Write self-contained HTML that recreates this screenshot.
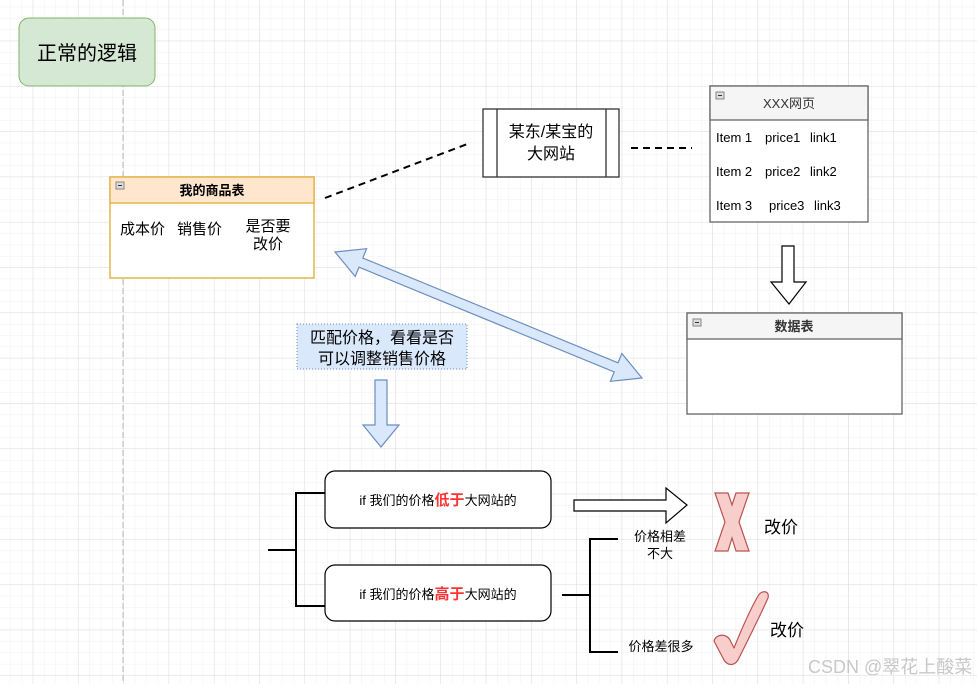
<!DOCTYPE html>
<html><head><meta charset="utf-8"><style>
html,body{margin:0;padding:0;background:#fff;}
svg{display:block;font-family:"Liberation Sans","Noto Sans CJK SC",sans-serif;}
</style></head><body>
<svg width="977" height="684" viewBox="0 0 977 684" xmlns="http://www.w3.org/2000/svg">
<defs>
<pattern id="minor" x="32.7" y="40.7" width="11.33" height="11.33" patternUnits="userSpaceOnUse">
<path d="M0 0V11.33M0 0H11.33" stroke="#f0f0f0" stroke-width="1" fill="none"/></pattern>
<pattern id="major" x="32.7" y="40.7" width="45.3" height="45.3" patternUnits="userSpaceOnUse">
<path d="M0 0V45.3M0 0H45.3" stroke="#dedede" stroke-width="1" fill="none"/></pattern>
</defs>
<rect width="977" height="684" fill="#fff"/>
<rect width="977" height="684" fill="url(#minor)"/>
<rect width="977" height="684" fill="url(#major)"/>
<line x1="123" y1="0" x2="123" y2="684" stroke="#bbb" stroke-dasharray="6,3"/>

<rect x="19" y="18" width="136" height="68" rx="10" fill="#d5e8d4" stroke="#82b366"/>
<text x="87" y="60" font-size="20" text-anchor="middle">正常的逻辑</text>

<rect x="110" y="177" width="204" height="101" fill="#fff" stroke="#e5b64c" stroke-width="1.5"/>
<rect x="110" y="177" width="204" height="26" fill="#ffe6cc" stroke="#e5b64c" stroke-width="1.5"/>
<rect x="116" y="182" width="8" height="7" fill="#ddd" stroke="#888"/><line x1="118" y1="185.5" x2="122" y2="185.5" stroke="#333"/>
<text x="212" y="195" font-size="13" font-weight="bold" text-anchor="middle">我的商品表</text>
<text x="120" y="234" font-size="15">成本价</text>
<text x="177" y="234" font-size="15">销售价</text>
<text x="268" y="231" font-size="15" text-anchor="middle">是否要</text>
<text x="268" y="249" font-size="15" text-anchor="middle">改价</text>

<line x1="325" y1="198" x2="470" y2="143" stroke="#000" stroke-width="2" stroke-dasharray="7,5"/>
<line x1="631" y1="148" x2="692" y2="148" stroke="#000" stroke-width="2" stroke-dasharray="7,5"/>

<rect x="483" y="109" width="136" height="68" fill="#fff" stroke="#333" stroke-width="1.3"/>
<line x1="497" y1="109" x2="497" y2="177" stroke="#333" stroke-width="1.3"/>
<line x1="606" y1="109" x2="606" y2="177" stroke="#333" stroke-width="1.3"/>
<text x="551" y="137" font-size="16" text-anchor="middle">某东/某宝的</text>
<text x="551" y="159" font-size="16" text-anchor="middle">大网站</text>

<rect x="710" y="86" width="158" height="136" fill="#fff" stroke="#666" stroke-width="1.3"/>
<rect x="710" y="86" width="158" height="34" fill="#f5f5f5" stroke="#666" stroke-width="1.3"/>
<rect x="716" y="92" width="8" height="7" fill="#ddd" stroke="#888"/><line x1="718" y1="95.5" x2="722" y2="95.5" stroke="#333"/>
<text x="789" y="108" font-size="13" text-anchor="middle" fill="#333">XXX网页</text>
<g font-size="13">
<text x="716" y="142">Item 1</text><text x="765" y="142">price1</text><text x="810" y="142">link1</text>
<text x="716" y="176">Item 2</text><text x="765" y="176">price2</text><text x="810" y="176">link2</text>
<text x="716" y="210">Item 3</text><text x="769" y="210">price3</text><text x="814" y="210">link3</text>
</g>

<polygon points="782,246 794,246 794,282 806,282 789,304 771,282 782,282" fill="#fff" stroke="#000" stroke-width="1.2"/>

<rect x="687" y="313" width="215" height="101" fill="#fff" stroke="#666" stroke-width="1.3"/>
<rect x="687" y="313" width="215" height="26" fill="#f5f5f5" stroke="#666" stroke-width="1.3"/>
<rect x="693" y="319" width="8" height="7" fill="#ddd" stroke="#888"/><line x1="695" y1="322.5" x2="699" y2="322.5" stroke="#333"/>
<text x="794" y="331" font-size="13" font-weight="bold" text-anchor="middle" fill="#333">数据表</text>

<polygon points="335,252 355.2,276.5 359,267.2 614.2,372 610.4,381.3 642,378 621.8,353.5 618,362.8 362.8,258 366.6,248.7" fill="#dae8fc" stroke="#6c8ebf" stroke-width="1.2"/>

<rect x="297" y="324" width="170" height="45" fill="#dae8fc" stroke="#6c8ebf" stroke-dasharray="1,2"/>
<text x="382" y="343" font-size="16" text-anchor="middle">匹配价格，看看是否</text>
<text x="382" y="364" font-size="16" text-anchor="middle">可以调整销售价格</text>

<polygon points="375,380 387,380 387,425 399,425 381,447 363,425 375,425" fill="#dae8fc" stroke="#6c8ebf" stroke-width="1.2"/>

<path d="M268 550H296M325 493H296V606H325" fill="none" stroke="#000" stroke-width="2"/>
<rect x="325" y="471" width="226" height="57" rx="10" fill="#fff" stroke="#000" stroke-width="1.2"/>
<text x="438" y="505" font-size="13" text-anchor="middle">if 我们的价格<tspan fill="#ff3333" font-weight="bold" font-size="15">低于</tspan>大网站的</text>
<rect x="325" y="565" width="226" height="56" rx="10" fill="#fff" stroke="#000" stroke-width="1.2"/>
<text x="438" y="599" font-size="13" text-anchor="middle">if 我们的价格<tspan fill="#ff3333" font-weight="bold" font-size="15">高于</tspan>大网站的</text>

<polygon points="574,500 666,500 666,488 687,505 666,523 666,511 574,511" fill="#fff" stroke="#000" stroke-width="1.2"/>

<path d="M562 595H590M618 539H590V652H618" fill="none" stroke="#000" stroke-width="2"/>
<text x="660" y="541" font-size="13" text-anchor="middle">价格相差</text>
<text x="660" y="558" font-size="13" text-anchor="middle">不大</text>
<text x="661" y="651" font-size="13" text-anchor="middle">价格差很多</text>

<polygon points="715,493 728,493 732,505 736,493 749,493 739,522 749,551 736,551 732,538 728,551 715,551 725,522" fill="#f8cecc" stroke="#b85450" stroke-width="1.2"/>
<text x="764" y="533" font-size="17">改价</text>
<path d="M714 641 C716 634 726 633 730 640 L734 648 C742 628 750 610 758 596 C761 590 770 590 768 598 C760 616 748 640 738 660 C734 666 728 666 724 660 Z" fill="#f8cecc" stroke="#b85450" stroke-width="1.2" stroke-linejoin="round"/>
<text x="770" y="636" font-size="17">改价</text>

<text x="808" y="673" font-size="18" fill="#c8c8c8">CSDN @翠花上酸菜</text>
</svg>
</body></html>
